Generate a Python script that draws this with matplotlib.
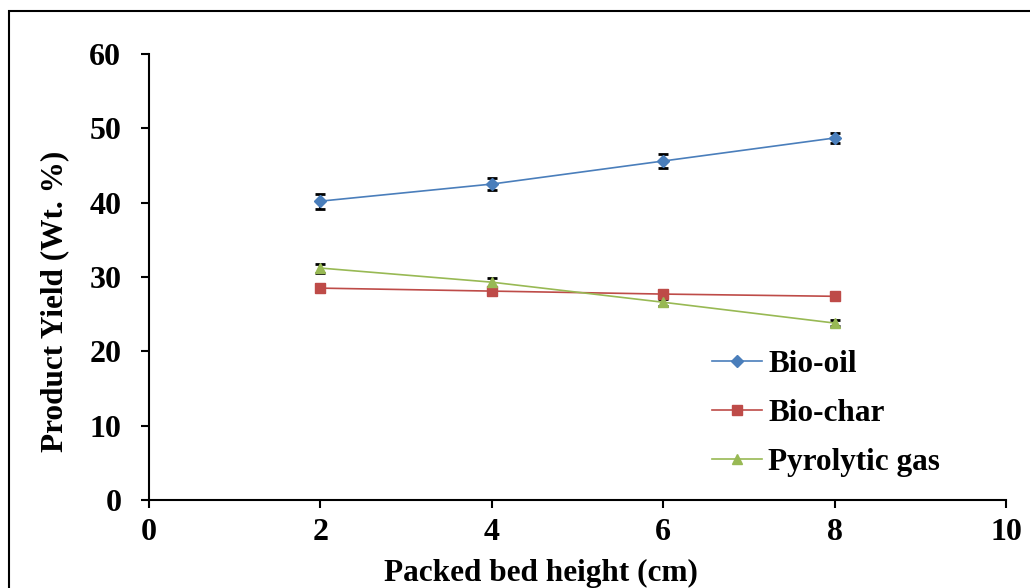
import matplotlib
matplotlib.use("Agg")
import matplotlib.pyplot as plt
from matplotlib.patches import Rectangle

plt.rcParams["font.family"] = ["Liberation Serif", "DejaVu Serif"]
plt.rcParams["font.weight"] = "bold"

bed_height = [2, 4, 6, 8]
bio_oil = [40.2, 42.5, 45.6, 48.7]
bio_oil_err = [1.0, 0.8, 0.9, 0.7]
bio_char = [28.5, 28.1, 27.7, 27.4]
bio_char_err = [0.5, 0.5, 0.5, 0.4]
pyro_gas = [31.2, 29.3, 26.6, 23.8]
pyro_gas_err = [0.6, 0.6, 0.5, 0.4]

series = [
    ("Bio-oil", bio_oil, bio_oil_err, "#4A7EBB", "D"),
    ("Bio-char", bio_char, bio_char_err, "#BE4B48", "s"),
    ("Pyrolytic gas", pyro_gas, pyro_gas_err, "#98B954", "^"),
]

fig = plt.figure(figsize=(10.3, 5.88), dpi=100)
ax = fig.add_axes([0.1447, 0.1497, 0.832, 0.7585])

# chart-area border, runs off the right and bottom edges
fig.patches.append(Rectangle((9 / 1030, -0.1), 1.2, 1.1 - 11 / 588,
                             transform=fig.transFigure, fill=False,
                             edgecolor="black", linewidth=1.5))

for name, vals, err, color, mk in series:
    ax.errorbar(bed_height, vals, yerr=err, fmt="none", ecolor="black",
                elinewidth=1.5, capsize=3.8, capthick=2, zorder=2)
    ax.plot(bed_height, vals, color=color, linewidth=1.2, marker=mk,
            markersize=7 if mk != "D" else 6.5, markerfacecolor=color,
            markeredgecolor=color, label=name, zorder=3)

ax.set_xlim(0, 10)
ax.set_ylim(0, 60)
ax.set_xticks([0, 2, 4, 6, 8, 10])
ax.set_yticks(range(0, 61, 10))
ax.tick_params(direction="out", length=6, width=1.5, labelsize=23)
ax.tick_params(axis="x", pad=7)
ax.tick_params(axis="y", pad=14)
for side in ("top", "right"):
    ax.spines[side].set_visible(False)
for side in ("left", "bottom"):
    ax.spines[side].set_linewidth(1.5)

ax.set_xlabel("Packed bed height (cm)", fontsize=22.5, fontweight="bold")
ax.set_ylabel("Product Yield (Wt. %)", fontsize=22.5, fontweight="bold")
ax.xaxis.set_label_coords(0.457, -0.133)
ax.yaxis.set_label_coords(-0.093, 0.446)

ax.legend(loc="upper left", bbox_to_anchor=(0.657, 0.337), frameon=False,
          fontsize=22.5, handlelength=1.6, handletextpad=0.2, labelspacing=0.65,
          borderaxespad=0, borderpad=0)

fig.savefig("out.png", dpi=100)
